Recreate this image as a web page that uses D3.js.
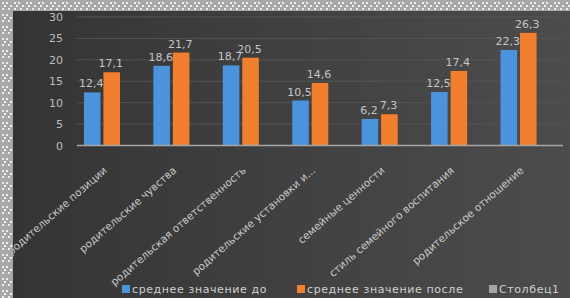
<!DOCTYPE html>
<html>
<head>
<meta charset="utf-8">
<script src="https://cdn.jsdelivr.net/npm/d3@7"></script>
<style>
  body { margin: 0; background: #a9a9a9; }
  svg { display: block; }
  text { font-family: "DejaVu Sans", sans-serif; }
</style>
</head>
<body>
<div id="chart"></div>
<script>
const categories = [
    "родительские позиции",
    "родительские чувства",
    "родительская ответственность",
    "родительские установки и...",
    "семейные ценности",
    "стиль семейного воспитания",
    "родительское отношение"
];
const seriesNames = ["среднее значение до", "среднее значение после", "Столбец1"];
const before = [12.4, 18.6, 18.7, 10.5, 6.2, 12.5, 22.3];
const after = [17.1, 21.7, 20.5, 14.6, 7.3, 17.4, 26.3];
const column1 = [null, null, null, null, null, null, null];
const yTicks = [0, 5, 10, 15, 20, 25, 30];

const width = 570;
const height = 298;
const frame = { left: 13, top: 11 };
const plot = { left: 77, right: 563, top: 17, bottom: 145.5 };
const colors = ["#4b93dc", "#f27f2e", "#a5a5a5"];

const svg = d3.select("#chart")
    .append("svg")
    .attr("width", width)
    .attr("height", height);

const defs = svg.append("defs");

// dotted frame pattern
const pat = defs.append("pattern")
    .attr("id", "dots")
    .attr("patternUnits", "userSpaceOnUse")
    .attr("width", 12)
    .attr("height", 12);
pat.append("rect").attr("width", 12).attr("height", 12).attr("fill", "#a8a8a8");
[[2, 2], [6, 2], [4, 5], [2, 8], [8, 8], [10, 5]].forEach(p => {
    pat.append("rect")
        .attr("x", p[0]).attr("y", p[1])
        .attr("width", 2).attr("height", 2)
        .attr("fill", "#ededed");
});

const bg = defs.append("linearGradient")
    .attr("id", "bg")
    .attr("x1", 0).attr("y1", 0)
    .attr("x2", 1).attr("y2", 0);
bg.append("stop").attr("offset", 0).attr("stop-color", "#343434");
bg.append("stop").attr("offset", 0.6).attr("stop-color", "#434343");
bg.append("stop").attr("offset", 1).attr("stop-color", "#4c4c4c");

defs.append("clipPath")
    .attr("id", "area")
    .append("rect")
    .attr("x", frame.left)
    .attr("y", frame.top)
    .attr("width", width - frame.left)
    .attr("height", height - frame.top);

svg.append("rect")
    .attr("width", width)
    .attr("height", height)
    .attr("fill", "url(#dots)");

const chart = svg.append("g").attr("clip-path", "url(#area)");

chart.append("rect")
    .attr("x", frame.left)
    .attr("y", frame.top)
    .attr("width", width - frame.left)
    .attr("height", height - frame.top)
    .attr("fill", "url(#bg)");

const y = d3.scaleLinear()
    .domain([0, 30])
    .range([plot.bottom, plot.top]);

const x0 = d3.scaleBand()
    .domain(categories)
    .range([plot.left, plot.right])
    .paddingInner(0.2)
    .paddingOuter(0.1);

const x1 = d3.scaleBand()
    .domain(seriesNames)
    .range([0, x0.bandwidth()])
    .paddingInner(0.15);

// gridlines
chart.append("g")
    .selectAll("line")
    .data(yTicks.filter(t => t > 0))
    .enter()
    .append("line")
    .attr("x1", plot.left)
    .attr("x2", plot.right)
    .attr("y1", d => y(d))
    .attr("y2", d => y(d))
    .attr("stroke", "#545454")
    .attr("stroke-width", 1);

// y axis labels
const yAxis = d3.axisLeft(y)
    .tickValues(yTicks)
    .tickSize(0)
    .tickPadding(0);

chart.append("g")
    .attr("transform", "translate(" + 63 + ",0)")
    .call(yAxis)
    .call(g => g.select(".domain").remove())
    .selectAll("text")
    .attr("fill", "#bdbdbd")
    .attr("font-family", "DejaVu Sans")
    .attr("font-size", 11);

const rows = categories.map((c, i) => ({
    cat: c,
    values: [before[i], after[i], column1[i]]
}));

const groups = chart.append("g")
    .selectAll("g")
    .data(rows)
    .enter()
    .append("g")
    .attr("transform", d => "translate(" + x0(d.cat) + ",0)");

groups.selectAll("rect")
    .data(d => d.values.map((v, j) => ({ name: seriesNames[j], value: v, j: j })).filter(d => d.value !== null))
    .enter()
    .append("rect")
    .attr("x", d => x1(d.name))
    .attr("y", d => y(d.value))
    .attr("width", x1.bandwidth())
    .attr("height", d => y(0) - y(d.value))
    .attr("fill", d => colors[d.j]);

groups.selectAll("text")
    .data(d => d.values.map((v, j) => ({ name: seriesNames[j], value: v, j: j })).filter(d => d.value !== null))
    .enter()
    .append("text")
    .attr("x", d => x1(d.name) + x1.bandwidth() / 2 - 1)
    .attr("y", d => y(d.value) - 5)
    .attr("text-anchor", "middle")
    .attr("fill", "#c4c4c4")
    .attr("font-size", 11)
    .text(d => d3.format(".1f")(d.value).replace(".", ","));

// baseline
chart.append("line")
    .attr("x1", plot.left)
    .attr("x2", plot.right)
    .attr("y1", y(0))
    .attr("y2", y(0))
    .attr("stroke", "#a6a6a6")
    .attr("stroke-width", 1.5);

// category labels
chart.append("g")
    .selectAll("text")
    .data(categories)
    .enter()
    .append("text")
    .attr("transform", d => "translate(" + (x0(d) + x0.bandwidth() / 2 - 4) + "," + (y(0) + 26) + ") rotate(-41)")
    .attr("text-anchor", "end")
    .attr("fill", "#cacaca")
    .attr("font-size", 10.5)
    .text(d => d);

// legend
const legendX = [122, 297, 489];
const legend = chart.append("g")
    .selectAll("g")
    .data(seriesNames)
    .enter()
    .append("g")
    .attr("transform", (d, i) => "translate(" + legendX[i] + ",285)");

legend.append("rect")
    .attr("width", 8)
    .attr("height", 8)
    .attr("fill", (d, i) => colors[i]);

legend.append("text")
    .attr("x", 10)
    .attr("y", 8)
    .attr("fill", "#cfcfcf")
    .attr("font-size", 11)
    .attr("letter-spacing", 0.6)
    .text(d => d);
</script>
</body>
</html>
